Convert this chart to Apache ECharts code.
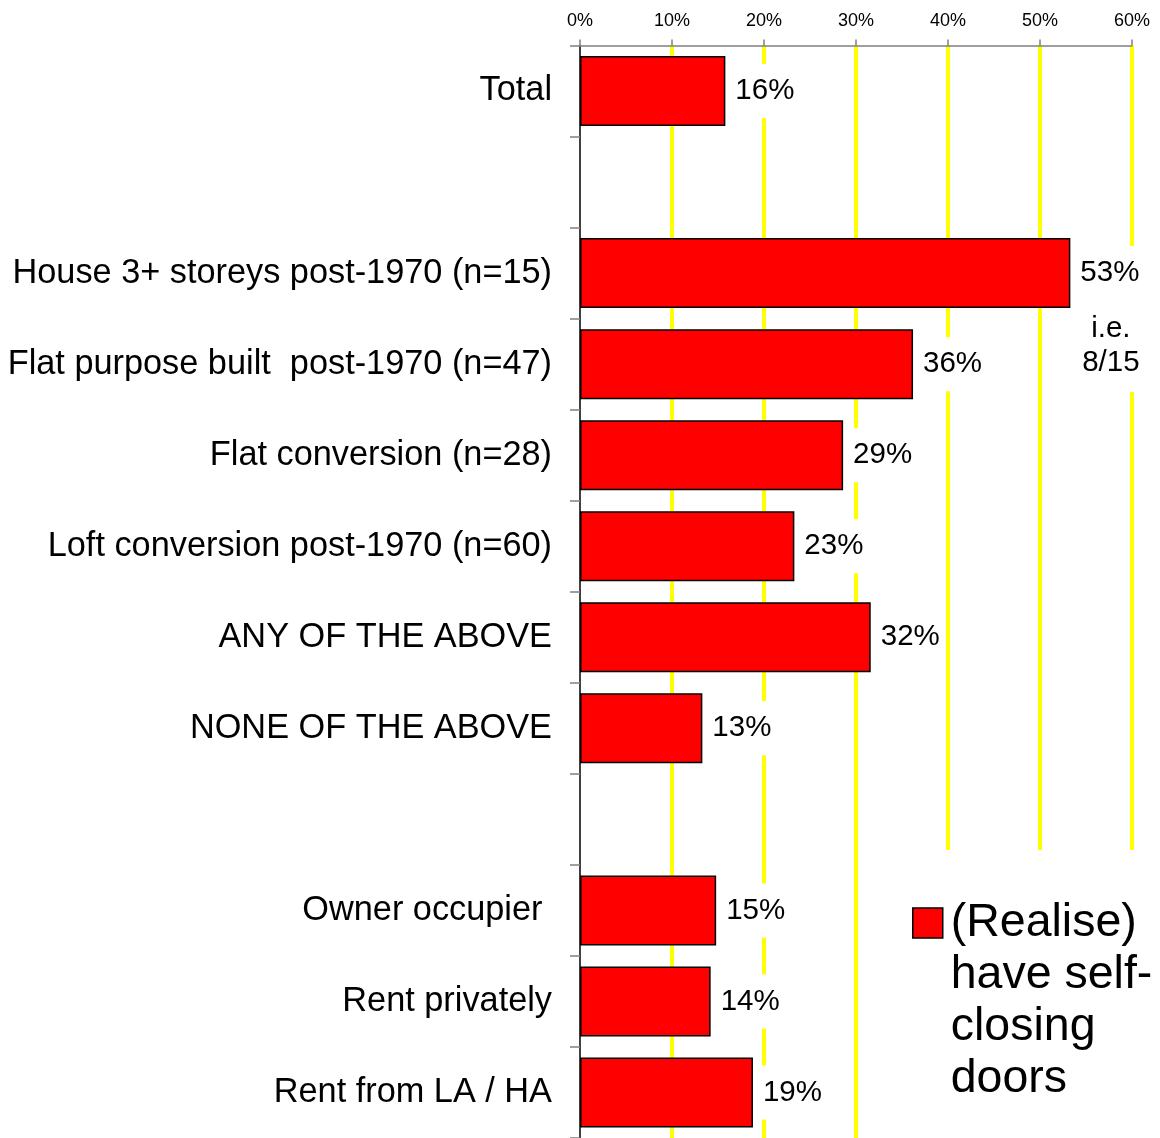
<!DOCTYPE html>
<html><head><meta charset="utf-8">
<script src="https://cdn.jsdelivr.net/npm/echarts@6/dist/echarts.min.js"></script>
<style>html,body{margin:0;padding:0;background:#fff}#c{width:1160px;height:1138px}</style>
</head><body><div id="c"></div>
<script>
const categories = ['Total', ' ', 'House 3+ storeys post-1970 (n=15)', 'Flat purpose built  post-1970 (n=47)', 'Flat conversion (n=28)', 'Loft conversion post-1970 (n=60)', 'ANY OF THE ABOVE', 'NONE OF THE ABOVE', '  ', 'Owner occupier ', 'Rent privately', 'Rent from LA / HA'];
const values = [15.8, null, 53.3, 36.2, 28.6, 23.3, 31.6, 13.3, null, 14.8, 14.2, 18.8];
const xMin = 0, xMax = 60, xStep = 10;
const seriesName = '(Realise)\nhave self-\nclosing\ndoors';
const noteText = 'i.e.\n8/15';
const noteX = 57.7;
const noteCategory = categories[2];

const FONT = '"Liberation Sans", Arial, sans-serif';
const chart = echarts.init(document.getElementById('c'), null, {renderer: 'canvas'});
chart.setOption({
  backgroundColor: '#fff',
  animation: false,
  textStyle: {fontFamily: FONT, color: '#000'},
  grid: {left: 580, top: 45.5, width: 552, height: 1098, containLabel: false},
  xAxis: {
    type: 'value', position: 'top', min: xMin, max: xMax, interval: xStep,
    axisLine: {show: true, lineStyle: {color: '#808080', width: 1.5}},
    axisTick: {show: true, length: 6, lineStyle: {color: '#808080', width: 1.5}},
    axisLabel: {formatter: '{value}%', fontSize: 18, color: '#000', margin: 15, fontFamily: FONT},
    splitLine: {show: true, showMinLine: false, lineStyle: {color: '#ffff00', width: 4}}
  },
  yAxis: {
    type: 'category', inverse: true, data: categories,
    axisLine: {show: true, lineStyle: {color: '#000', width: 1.5}},
    axisTick: {show: true, length: 10, lineStyle: {color: '#808080', width: 1.5}},
    axisLabel: {fontSize: 34.3, color: '#000', margin: 28, fontFamily: FONT, padding: [6, 0, 0, 0]},
    splitLine: {show: false}
  },
  legend: {
    show: true, orient: 'vertical', left: 880, top: 850,
    backgroundColor: '#fff',
    padding: [47, 40, 120, 32],
    itemWidth: 30, itemHeight: 186,
    icon: 'path://M0,0L30,0L30,30L0,30Z M0,186',
    itemStyle: {color: '#ff0000', borderColor: '#000', borderWidth: 1.5},
    textStyle: {fontSize: 46.5, lineHeight: 52, color: '#000', fontFamily: FONT, padding: [0, 0, 0, 3]},
    data: [seriesName]
  },
  series: [{
    name: seriesName, type: 'bar', data: values, barWidth: 70,
    itemStyle: {color: '#ff0000', borderColor: '#000', borderWidth: 1.5},
    label: {
      show: true, position: 'right', distance: 5,
      formatter: p => Math.round(p.value) + '%',
      fontSize: 29.5, color: '#000', fontFamily: FONT,
      backgroundColor: '#fff', padding: [15, 2, 9, 5]
    },
    markPoint: {
      symbol: 'rect', symbolSize: 1, itemStyle: {color: 'rgba(0,0,0,0)'},
      label: {
        show: true, position: 'inside', formatter: noteText, offset: [0, 73],
        fontSize: 29.5, lineHeight: 34, color: '#000', fontFamily: FONT,
        backgroundColor: '#fff', padding: [14, 6, 10, 6]
      },
      data: [{coord: [noteX, noteCategory], value: 0}]
    }
  }]
});
</script></body></html>
